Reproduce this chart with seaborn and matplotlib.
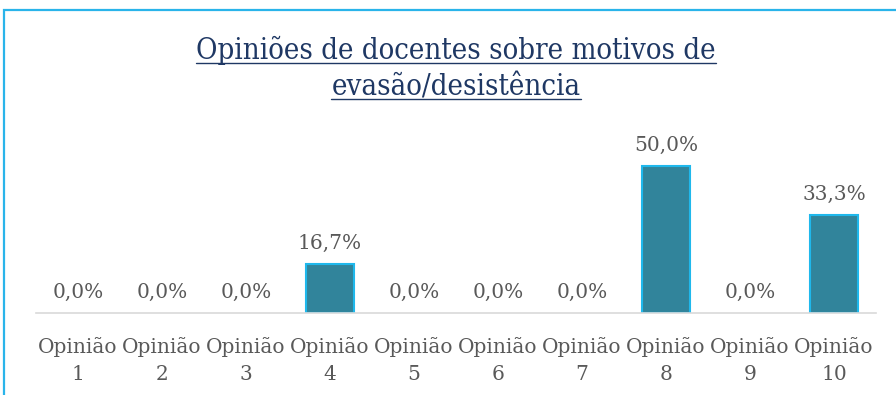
import matplotlib
matplotlib.use("Agg")
import matplotlib.pyplot as plt
import seaborn as sns
import pandas as pd
from matplotlib.patches import Rectangle
from matplotlib.lines import Line2D

categories = ["Opinião\n1", "Opinião\n2", "Opinião\n3", "Opinião\n4", "Opinião\n5",
              "Opinião\n6", "Opinião\n7", "Opinião\n8", "Opinião\n9", "Opinião\n10"]
values = [0.0, 0.0, 0.0, 16.7, 0.0, 0.0, 0.0, 50.0, 0.0, 33.3]
title_lines = ["Opiniões de docentes sobre motivos de", "evasão/desistência"]

sns.set_theme(style="white")
plt.rcParams["font.family"] = ["DejaVu Serif"]

W, H = 896, 395
fig = plt.figure(figsize=(W / 100, H / 100), dpi=100)
ax = fig.add_axes([36 / W, (H - 313) / H, (876 - 36) / W, (313 - 130) / H])

df = pd.DataFrame({"cat": categories, "val": values})
sns.barplot(data=df, x="cat", y="val", ax=ax, color="#31849B", width=0.57,
            edgecolor="#1FB8EC", linewidth=1.5, saturation=1)
for p in ax.patches:
    if p.get_height() == 0:
        p.set_linewidth(0)

ax.set_ylim(0, (313 - 130) / 2.94)
ax.set_xlim(-0.5, len(categories) - 0.5)
ax.set_yticks([])
ax.set_xlabel("")
ax.set_ylabel("")
for s in ["top", "right", "left"]:
    ax.spines[s].set_visible(False)
ax.spines["bottom"].set_color("#D9D9D9")
ax.spines["bottom"].set_linewidth(1.2)
ax.tick_params(axis="x", length=0, pad=17, labelsize=14.5, labelcolor="#595959")
for lbl in ax.get_xticklabels():
    lbl.set_linespacing(1.55)

for i, v in enumerate(values):
    ax.annotate(f"{v:.1f}%".replace(".", ","), (i, v), xytext=(0, 11),
                textcoords="offset points", ha="center", va="baseline",
                fontsize=14.5, color="#595959")

# Title with underline
title_color = "#1F3864"
baselines = [59, 95]
texts = []
for line, y in zip(title_lines, baselines):
    t = fig.text(456 / W, 1 - y / H, line, ha="center", va="baseline",
                 fontsize=21, color=title_color, family="DejaVu Serif",
                 fontstretch="condensed")
    texts.append(t)
fig.canvas.draw()
r = fig.canvas.get_renderer()
for t, y in zip(texts, baselines):
    bb = t.get_window_extent(r)
    yl = H - (y + 3.5)
    fig.add_artist(Line2D([bb.x0 / W, bb.x1 / W], [yl / H, yl / H],
                          transform=fig.transFigure, color=title_color, lw=1.0))

# Chart frame
fig.add_artist(Rectangle((4 / W, -0.1), 1.2, 1 - 9.5 / H + 0.1,
                         transform=fig.transFigure, fill=False,
                         edgecolor="#2AB4EA", lw=1.6))

fig.savefig("out.png", dpi=100)
